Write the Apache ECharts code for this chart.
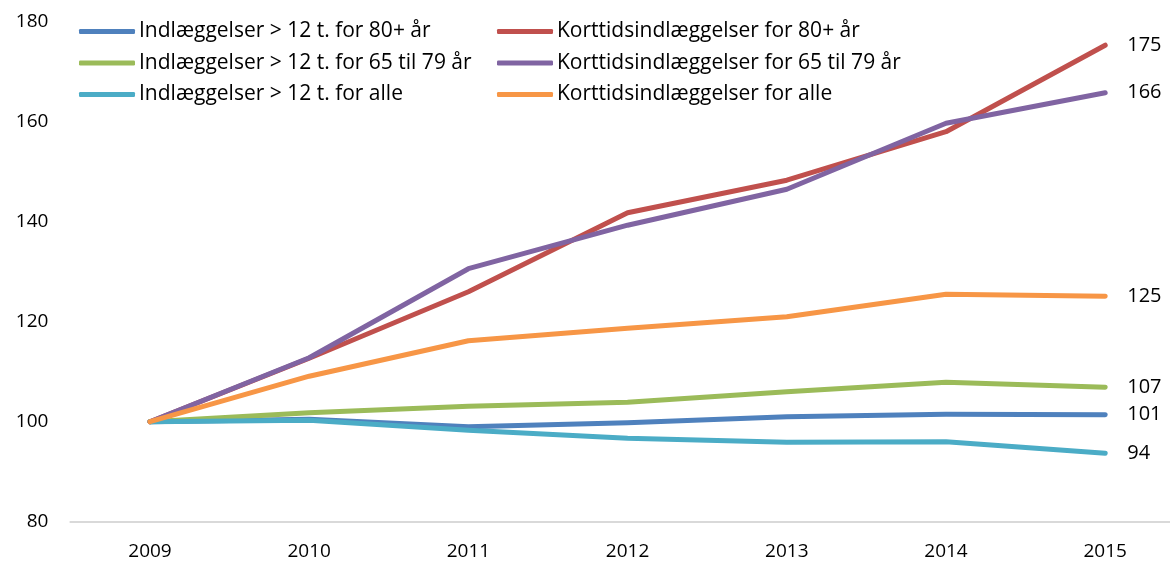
<!DOCTYPE html>
<html>
<head>
<meta charset="utf-8">
<script src="https://cdn.jsdelivr.net/npm/echarts@6/dist/echarts.min.js"></script>
<style>html,body{margin:0;padding:0;background:#fff}#c{width:1170px;height:562px}</style>
</head>
<body>
<div id="c"></div>
<script>
const years = ['2009','2010','2011','2012','2013','2014','2015'];
const yTicks = [80, 100, 120, 140, 160, 180];
const names = [
  'Indlæggelser > 12 t. for 80+ år',
  'Korttidsindlæggelser for 80+ år',
  'Indlæggelser > 12 t. for 65 til 79 år',
  'Korttidsindlæggelser for 65 til 79 år',
  'Indlæggelser > 12 t. for alle',
  'Korttidsindlæggelser for alle'
];
const indl80 = [100, 100.5, 99.0, 99.8, 101.0, 101.5, 101.4];
const kort80 = [100, 112.7, 126.0, 141.8, 148.3, 158.0, 175.3];
const indl65 = [100, 101.8, 103.1, 103.9, 106.0, 107.9, 106.9];
const kort65 = [100, 112.8, 130.6, 139.3, 146.5, 159.7, 165.8];
const indlAlle = [100, 100.3, 98.3, 96.7, 95.9, 96.0, 93.7];
const kortAlle = [100, 109.1, 116.2, 118.7, 121.0, 125.5, 125.1];
const colors = ['#4f81bd', '#c0504d', '#9bbb59', '#8064a2', '#4bacc6', '#f79646'];
const seriesData = [indl80, kort80, indl65, kort65, indlAlle, kortAlle];

const FONT = 'Open Sans';
const FS = 19;
const LFS = 21;
const chart = echarts.init(document.getElementById('c'));
const series = seriesData.map((arr, i) => ({
  name: names[i],
  type: 'line',
  data: arr.map((v, j) => {
    if (i === 5 && j === 0) {
      return {value: v, label: {show: true, position: 'left', distance: 14, formatter: '{c}', color: '#000', fontSize: 20, fontFamily: FONT}};
    }
    return v;
  }),
  symbol: 'none',
  smooth: false,
  lineStyle: {width: 5, color: colors[i], cap: 'round', join: 'round'},
  itemStyle: {color: colors[i]},
  endLabel: {show: true, distance: 22, color: '#000', fontSize: 20, fontFamily: FONT,
    formatter: p => String(Math.round(p.value))},
  z: 2 + i
}));

chart.setOption({
  animation: false,
  color: colors,
  grid: {left: 70.4, top: 21.7, width: 1114.4, height: 500, outerBoundsMode: 'none', containLabel: false},
  legend: [
    {left: 79, top: 21, padding: 0, orient: 'vertical', itemWidth: 56, itemHeight: 5, itemGap: 10.5, icon: 'roundRect',
     data: [names[0], names[2], names[4]],
     textStyle: {fontSize: LFS, fontFamily: FONT, color: '#000', padding: [0,0,0,-1]}},
    {left: 497, top: 21, padding: 0, orient: 'vertical', itemWidth: 56, itemHeight: 5, itemGap: 10.5, icon: 'roundRect',
     data: [names[1], names[3], names[5]],
     textStyle: {fontSize: LFS, fontFamily: FONT, color: '#000', padding: [0,0,0,-1]}}
  ],
  xAxis: {
    type: 'category', data: years, boundaryGap: true,
    axisLine: {show: true, lineStyle: {color: '#d9d9d9', width: 2}},
    axisTick: {show: false},
    axisLabel: {fontSize: FS, fontFamily: FONT, color: '#000', margin: 20}
  },
  yAxis: {
    type: 'value', min: yTicks[0], max: yTicks[yTicks.length - 1], interval: 20,
    axisLine: {show: false}, axisTick: {show: false}, splitLine: {show: false},
    axisLabel: {fontSize: FS, fontFamily: FONT, color: '#000', margin: 22}
  },
  series: series
});
</script>
</body>
</html>
